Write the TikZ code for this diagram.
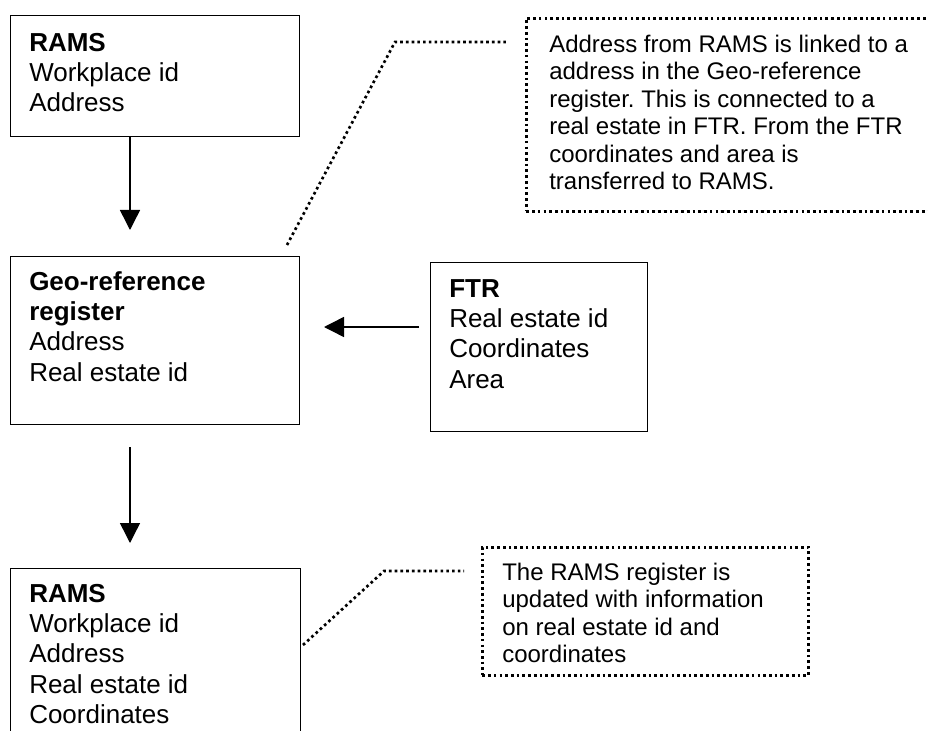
\documentclass[tikz,border=0pt]{standalone}
\usepackage{fontspec}
\setmainfont{Liberation Sans}
\usetikzlibrary{arrows.meta}
\begin{document}
\frenchspacing
\begin{tikzpicture}[x=0.75pt,y=-0.75pt,
  box/.style={draw, line width=1.1pt, inner sep=0pt, anchor=north west},
  boxtext/.style={anchor=north west, inner sep=0pt, align=left, font=\fontsize{19.5pt}{22.7pt}\selectfont\frenchspacing},
  note/.style={draw, dash pattern=on 2pt off 2.3pt, line width=2pt, inner sep=0pt, anchor=north west},
  notetext/.style={anchor=north west, inner sep=0pt, align=left, font=\fontsize{18pt}{20.6pt}\selectfont\frenchspacing},
  leader/.style={dash pattern=on 2pt off 2.3pt, line width=2pt},
  arr/.style={line width=1.1pt, -{Triangle[length=15pt,width=15pt]}}]
\useasboundingbox (0,0) rectangle (928,731);
\fill[white] (0,0) rectangle (928,731);
\clip (0,0) rectangle (928,731);

% boxes
\node[box, minimum width=216.75pt, minimum height=90.75pt] (A) at (10,15) {};
\node[boxtext] (At) at (29,31) {\rule{0pt}{15pt}\textbf{RAMS}\\Workplace id\\Address};

\node[box, minimum width=216.75pt, minimum height=126pt] (B) at (10,256) {};
\node[boxtext] (Bt) at (29,270) {\rule{0pt}{15pt}\textbf{Geo-reference}\\\textbf{register}\\Address\\Real estate id};

\node[box, minimum width=162.75pt, minimum height=126.75pt] (C) at (430,262) {};
\node[boxtext] (Ct) at (449,277) {\rule{0pt}{15pt}\textbf{FTR}\\Real estate id\\Coordinates\\Area};

\node[box, minimum width=217.5pt, minimum height=150pt] (D) at (10,568) {};
\node[boxtext] (Dt) at (29,582) {\rule{0pt}{15pt}\textbf{RAMS}\\Workplace id\\Address\\Real estate id\\Coordinates};

% callouts
\node[note, minimum width=337.5pt, minimum height=144.75pt] (N1) at (525,17) {};
\node[notetext] (N1t) at (549,32) {\rule{0pt}{15pt}Address from RAMS is linked to a\\address in the Geo-reference\\register. This is connected to a\\real estate in FTR. From the FTR\\coordinates and area is\\transferred to RAMS.};

\node[note, minimum width=244.5pt, minimum height=96pt] (N2) at (481,546) {};
\node[notetext] (N2t) at (502,560) {\rule{0pt}{15pt}The RAMS register is\\updated with information\\on real estate id and\\coordinates};

% leader lines
\coordinate (l1a) at (287,245);
\coordinate (l1b) at (395,42);
\coordinate (l1c) at (506,42);
\draw[leader] (l1a) -- (l1b) -- (l1c);

\coordinate (l2a) at (303,645);
\coordinate (l2b) at (384,571);
\coordinate (l2c) at (464,571);
\draw[leader] (l2a) -- (l2b) -- (l2c);

% arrows
\coordinate (a1t) at (130,230);
\draw[arr] (A.south -| a1t) -- (a1t);

\coordinate (a2s) at (419,327);
\coordinate (a2t) at (324,327);
\draw[arr] (a2s) -- (a2t);

\coordinate (a3s) at (130,447);
\coordinate (a3t) at (130,543);
\draw[arr] (a3s) -- (a3t);
\end{tikzpicture}
\end{document}
